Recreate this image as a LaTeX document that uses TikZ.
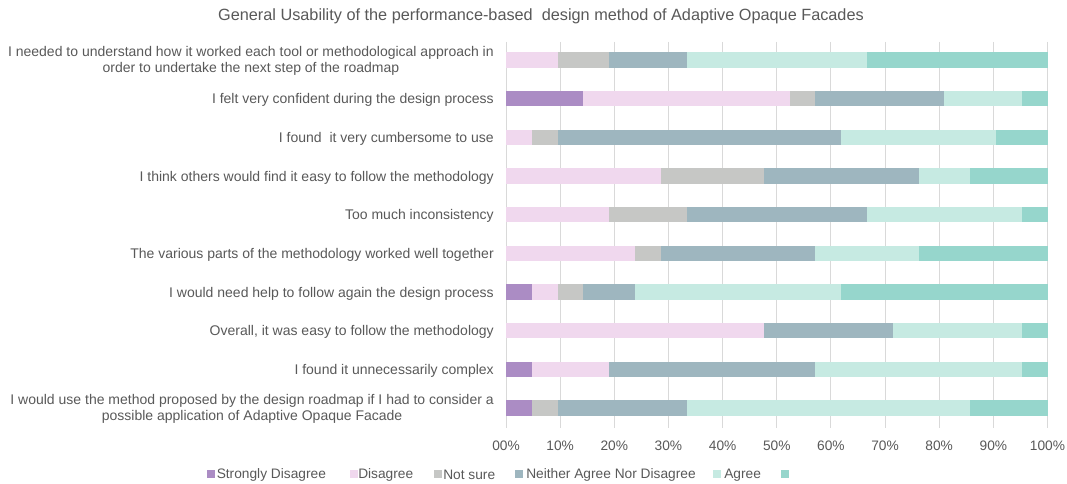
\documentclass[tikz,border=0pt]{standalone}
\usepackage{fontspec}
\setmainfont{Liberation Sans}
\definecolor{cPur}{HTML}{AB8CC4}
\definecolor{cPk}{HTML}{F0D8EE}
\definecolor{cGy}{HTML}{C6C7C5}
\definecolor{cNe}{HTML}{9EB6BF}
\definecolor{cAg}{HTML}{C6EAE2}
\definecolor{cTe}{HTML}{96D6CC}
\definecolor{cTxt}{HTML}{595959}
\definecolor{cGrid}{HTML}{D9D9D9}
\tikzset{
  lbl/.style={anchor=east, align=center, text=cTxt, inner sep=0pt, font=\fontsize{10.5}{12}\selectfont},
  tick/.style={text=cTxt, inner sep=0pt, font=\fontsize{10.3}{12}\selectfont},
  leg/.style={anchor=west, text=cTxt, inner sep=0pt, font=\fontsize{10.3}{12}\selectfont},
  ttl/.style={text=cTxt, inner sep=0pt, font=\fontsize{12.2}{14}\selectfont},
  grid line/.style={draw=cGrid, line width=0.75pt},
  legsq/.style={minimum size=6pt, inner sep=0pt, anchor=west}
}
\begin{document}
\begin{tikzpicture}[x=0.75pt,y=-0.75pt]
\useasboundingbox (0,0) rectangle (1067,484);
\fill[white] (0,0) rectangle (1067,484);
% title
\node[ttl] (title) at (541,16) {General Usability of the performance-based\ \ design method of Adaptive Opaque Facades};
% gridlines
\foreach \p in {0,...,10} {
  \draw[grid line] ({506+\p*54.15},42) -- ({506+\p*54.15},428);
  \node[tick] (t\p) at ({506+\p*54.15},446) {\p0\%};
}
% bars: row/colour/start/end (in respondents out of 21)
\foreach \r/\c/\a/\b in {
  1/cPk/0/2, 1/cGy/2/4, 1/cNe/4/7, 1/cAg/7/14, 1/cTe/14/21,
  2/cPur/0/3, 2/cPk/3/11, 2/cGy/11/12, 2/cNe/12/17, 2/cAg/17/20, 2/cTe/20/21,
  3/cPk/0/1, 3/cGy/1/2, 3/cNe/2/13, 3/cAg/13/19, 3/cTe/19/21,
  4/cPk/0/6, 4/cGy/6/10, 4/cNe/10/16, 4/cAg/16/18, 4/cTe/18/21,
  5/cPk/0/4, 5/cGy/4/7, 5/cNe/7/14, 5/cAg/14/20, 5/cTe/20/21,
  6/cPk/0/5, 6/cGy/5/6, 6/cNe/6/12, 6/cAg/12/16, 6/cTe/16/21,
  7/cPur/0/1, 7/cPk/1/2, 7/cGy/2/3, 7/cNe/3/5, 7/cAg/5/13, 7/cTe/13/21,
  8/cPk/0/10, 8/cNe/10/15, 8/cAg/15/20, 8/cTe/20/21,
  9/cPur/0/1, 9/cPk/1/4, 9/cNe/4/12, 9/cAg/12/20, 9/cTe/20/21,
  10/cPur/0/1, 10/cGy/1/2, 10/cNe/2/7, 10/cAg/7/18, 10/cTe/18/21} {
  \pgfmathsetmacro{\yc}{60+(\r-1)*38.67}
  \fill[\c] ({506+\a*25.786},{\yc-7.7}) rectangle ({506+\b*25.786},{\yc+7.7});
}
% labels
\node[lbl] (l1) at (494,61) {I needed to understand how it worked each tool or methodological approach in\\order to undertake the next step of the roadmap};
\node[lbl] (l2) at (494,100) {I felt very confident during the design process};
\node[lbl] (l3) at (494,138.8) {I found\ \ it very cumbersome to use};
\node[lbl] (l4) at (494,177.5) {I think others would find it easy to follow the methodology};
\node[lbl] (l5) at (494,216.2) {Too much inconsistency};
\node[lbl] (l6) at (494,254.8) {The various parts of the methodology worked well together};
\node[lbl] (l7) at (494,293.5) {I would need help to follow again the design process};
\node[lbl] (l8) at (494,332.2) {Overall, it was easy to follow the methodology};
\node[lbl] (l9) at (494,370.8) {I found it unnecessarily complex};
\node[lbl] (l10) at (494,409) {I would use the method proposed by the design roadmap if I had to consider a\\possible application of Adaptive Opaque Facade};
% legend
\node[legsq, fill=cPur] (s1) at (207,474) {};
\node[leg] (g1) at (216.5,475) {Strongly Disagree};
\node[legsq, fill=cPk] (s2) at (350,474) {};
\node[leg] (g2) at (358,475) {Disagree};
\node[legsq, fill=cGy] (s3) at (434,474) {};
\node[leg] (g3) at (443,475) {Not sure};
\node[legsq, fill=cNe] (s4) at (515,474) {};
\node[leg] (g4) at (526,475) {Neither Agree Nor Disagree};
\node[legsq, fill=cAg] (s5) at (713,474) {};
\node[leg] (g5) at (724,475) {Agree};
\node[legsq, fill=cTe] (s6) at (781,474) {};
\end{tikzpicture}
\end{document}
